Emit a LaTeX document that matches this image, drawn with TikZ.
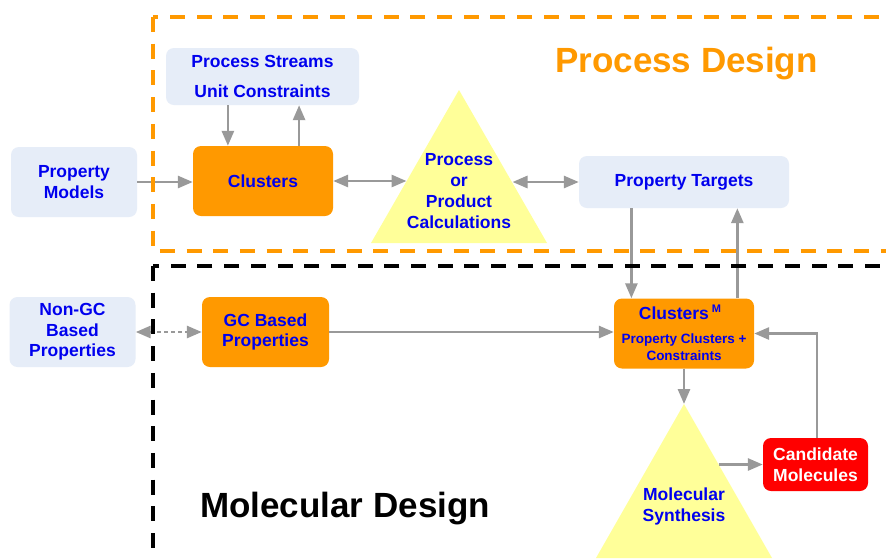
\documentclass[tikz,border=0pt]{standalone}
\usepackage{fontspec}
\setmainfont{Liberation Sans}
\usetikzlibrary{arrows.meta,calc}
\definecolor{lblue}{HTML}{E6EDF8}
\definecolor{orng}{HTML}{FF9900}
\definecolor{yel}{HTML}{FFFF99}
\definecolor{arrg}{HTML}{999999}
\definecolor{txtb}{HTML}{0000EE}
\definecolor{redb}{HTML}{FF0000}
\tikzset{
  basebox/.style={rounded corners=8pt, inner sep=0pt, align=center, font=\bfseries\fontsize{17.5}{20.5}\selectfont, text=txtb},
  bluebox/.style={basebox, fill=lblue},
  orbox/.style={basebox, fill=orng},
  redbox/.style={basebox, fill=redb, text=white},
  tritext/.style={align=center, font=\bfseries\fontsize{17.5}{21}\selectfont, text=txtb, inner sep=0pt},
  arr/.style={draw=arrg, line width=2.8pt, -{Triangle[length=15pt,width=12pt]}},
  biarr/.style={draw=arrg, line width=2.8pt, {Triangle[length=15pt,width=12pt]}-{Triangle[length=15pt,width=12pt]}},
  dotarr/.style={draw=arrg, line width=2.8pt, dash pattern=on 4pt off 3pt, {Triangle[length=15pt,width=12pt]}-{Triangle[length=15pt,width=12pt]}},
  frame/.style={line width=4pt, dash pattern=on 15pt off 11.7pt},
  title/.style={font=\bfseries\fontsize{35}{40}\selectfont, inner sep=0pt},
  tri/.style={fill=yel},
}
\begin{document}
\begin{tikzpicture}[x=1pt,y=-1pt]
\useasboundingbox (0,0) rectangle (886,558);
\fill[white] (0,0) rectangle (886,558);

% triangles
\path[tri] (371,243) -- (459,90) -- (547,243) -- cycle;
\path[tri] (596,558) -- (684,404) -- (772,558) -- cycle;

% nodes
\node[bluebox, minimum width=193pt, minimum height=57pt] (ps) at (262.5,76.5) {Process Streams\\[9pt]Unit Constraints};
\node[bluebox, minimum width=126pt, minimum height=70pt] (pm) at (74,182) {Property\\Models};
\node[orbox, minimum width=140pt, minimum height=70pt] (clu) at (263,181) {Clusters};
\node[tritext] (pc) at (459,191) {Process\\or\\Product\\Calculations};
\node[bluebox, minimum width=210pt, minimum height=52pt] (pt) at (684,182) {Property Targets};
\node[bluebox, minimum width=126pt, minimum height=70pt] (ngc) at (72.5,332) {Non-GC\\Based\\Properties};
\node[orbox, minimum width=127pt, minimum height=70pt] (gc) at (265.5,332) {GC Based\\Properties};
\node[orbox, minimum width=140pt, minimum height=70pt] (clm) at (684,333.5) {};
\node[anchor=base, inner sep=0pt, text=txtb, font=\bfseries\fontsize{17.5}{20}\selectfont] (clmt) at (680,319) {Clusters\,\raisebox{7pt}{\fontsize{11}{11}\selectfont M}};
\node[anchor=base, inner sep=0pt, text=txtb, align=center, font=\bfseries\fontsize{13.5}{16.5}\selectfont] (clms) at (684,343) {Property Clusters +};
\node[anchor=base, inner sep=0pt, text=txtb, font=\bfseries\fontsize{13.5}{16.5}\selectfont] (clmc) at (684,360) {Constraints};
\node[tritext] (ms) at (684,506) {Molecular\\Synthesis};
\node[redbox, minimum width=105pt, minimum height=53pt] (cand) at (815.5,464.5) {Candidate\\Molecules};

% coordinates
\coordinate (t1L) at (406.5,181);
\coordinate (t1R) at (512.5,182);
\coordinate (t2apex) at (684,404);
\coordinate (t2R) at (718.5,464.5);
\coordinate (cd) at ($(clu.north west)!0.25!(clu.north east)$);
\coordinate (cu) at ($(clu.north west)!0.757!(clu.north east)$);
\coordinate (ptd) at ($(pt.south west)!0.25!(pt.south east)$);
\coordinate (cmu) at ($(clm.north west)!0.88!(clm.north east)$);

% connectors
\draw[arr] (pm.east) -- (pm.east -| clu.west);
\draw[arr] (cd |- ps.south) -- (cd);
\draw[arr] (cu) -- (cu |- ps.south);
\draw[biarr] (clu.east) -- (t1L);
\draw[biarr] (t1R) -- (pt.west);
\draw[arr] (ptd) -- (ptd |- clm.north);
\draw[arr] (cmu) -- (cmu |- pt.south);
\draw[dotarr] (ngc.east) -- (gc.west);
\draw[arr] (gc.east) -- (gc.east -| clm.west);
\draw[arr] (clm.south) -- (t2apex);
\draw[arr] (t2R) -- (cand.west);
\draw[arr] ([xshift=1.5pt]cand.north) |- (clm.east);

% frames
\begin{scope}
\clip (0,0) rectangle (886,558);
\draw[frame, orng] (153,17) rectangle (910,250.5);
\draw[frame, black] (153,266) rectangle (910,580);
\end{scope}

% titles
\node[title, text=orng, anchor=base] (pdt) at (686.5,72) {Process Design};
\node[title, text=black, anchor=base west] (mdt) at (200,517) {Molecular Design};
\end{tikzpicture}
\end{document}
